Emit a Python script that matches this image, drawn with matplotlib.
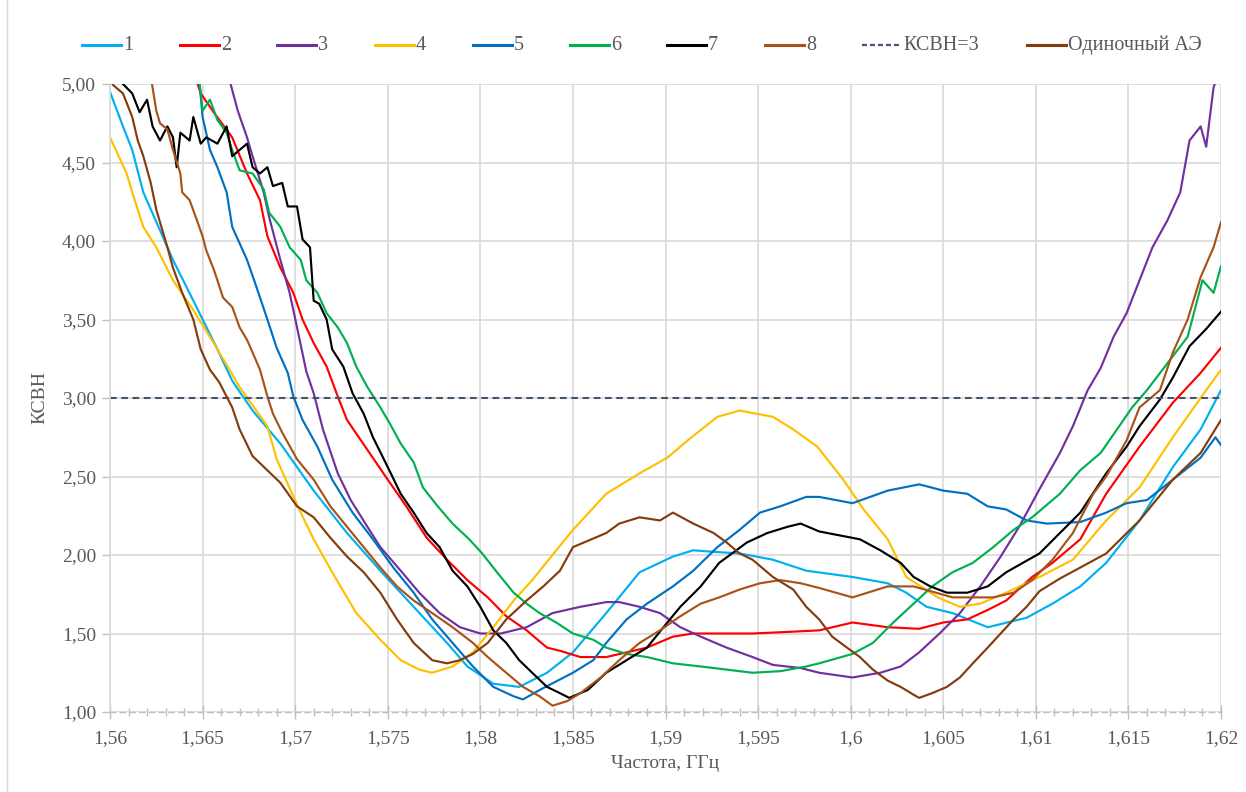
import matplotlib
matplotlib.use("Agg")
import matplotlib.pyplot as plt
from matplotlib.lines import Line2D
from matplotlib.ticker import MultipleLocator

plt.rcParams['font.family'] = ['Liberation Serif', 'DejaVu Serif']

# ---------------- data (frequency, GHz / VSWR) ----------------
f1 = [1.5600, 1.5607, 1.5612, 1.5618, 1.5634, 1.5645, 1.5658, 1.5666, 1.5677, 1.5692,
      1.5710, 1.5728, 1.5746, 1.5764, 1.5782, 1.5793, 1.5807, 1.5821, 1.5836, 1.5850,
      1.5868, 1.5886, 1.5904, 1.5915, 1.5926, 1.5940, 1.5958, 1.5976, 1.6001, 1.6020,
      1.6030, 1.6041, 1.6055, 1.6074, 1.6095, 1.6109, 1.6124, 1.6138, 1.6156, 1.6174,
      1.6189, 1.6200]
v1 = [4.95, 4.73, 4.58, 4.31, 3.88, 3.62, 3.31, 3.11, 2.92, 2.71,
      2.41, 2.14, 1.90, 1.67, 1.44, 1.29, 1.18, 1.16, 1.25, 1.38,
      1.63, 1.89, 1.99, 2.03, 2.02, 2.01, 1.97, 1.90, 1.86, 1.82,
      1.76, 1.67, 1.63, 1.54, 1.60, 1.69, 1.80, 1.95, 2.22, 2.56,
      2.80, 3.05]

f2 = [1.5646, 1.5649, 1.5656, 1.5666, 1.5674, 1.5681, 1.5685, 1.5692, 1.5699, 1.5704,
      1.5710, 1.5717, 1.5723, 1.5728, 1.5739, 1.5750, 1.5760, 1.5771, 1.5782, 1.5793,
      1.5804, 1.5814, 1.5825, 1.5836, 1.5843, 1.5854, 1.5868, 1.5879, 1.5890, 1.5904,
      1.5915, 1.5933, 1.5947, 1.5966, 1.5983, 1.6001, 1.6020, 1.6037, 1.6050, 1.6063,
      1.6074, 1.6084, 1.6098, 1.6109, 1.6124, 1.6138, 1.6156, 1.6174, 1.6189, 1.6200]
v2 = [5.05, 4.94, 4.82, 4.66, 4.43, 4.26, 4.03, 3.83, 3.67, 3.50,
      3.35, 3.20, 3.01, 2.86, 2.67, 2.48, 2.31, 2.11, 1.97, 1.84,
      1.73, 1.61, 1.52, 1.41, 1.39, 1.35, 1.35, 1.38, 1.41, 1.48,
      1.50, 1.50, 1.50, 1.51, 1.52, 1.57, 1.54, 1.53, 1.57, 1.59,
      1.65, 1.71, 1.86, 1.95, 2.10, 2.39, 2.69, 2.97, 3.16, 3.32]

f3 = [1.5664, 1.5669, 1.5674, 1.5677, 1.5683, 1.5686, 1.5692, 1.5697, 1.5701, 1.5706,
      1.5710, 1.5715, 1.5723, 1.5730, 1.5739, 1.5746, 1.5757, 1.5767, 1.5778, 1.5789,
      1.5800, 1.5811, 1.5825, 1.5839, 1.5854, 1.5868, 1.5875, 1.5886, 1.5897, 1.5908,
      1.5919, 1.5933, 1.5947, 1.5958, 1.5973, 1.5983, 1.6001, 1.6016, 1.6027, 1.6037,
      1.6048, 1.6059, 1.6070, 1.6081, 1.6091, 1.6102, 1.6113, 1.6120, 1.6128, 1.6135,
      1.6142, 1.6149, 1.6156, 1.6163, 1.6171, 1.6178, 1.6183, 1.6189, 1.6192, 1.6196,
      1.6200]
v3 = [5.05, 4.83, 4.66, 4.54, 4.31, 4.15, 3.88, 3.67, 3.45, 3.17,
      3.03, 2.80, 2.52, 2.35, 2.18, 2.05, 1.90, 1.76, 1.63, 1.54,
      1.50, 1.50, 1.54, 1.63, 1.67, 1.70, 1.70, 1.67, 1.63, 1.54,
      1.48, 1.41, 1.35, 1.30, 1.28, 1.25, 1.22, 1.25, 1.29, 1.38,
      1.50, 1.63, 1.80, 1.99, 2.18, 2.42, 2.65, 2.82, 3.05, 3.19,
      3.39, 3.54, 3.75, 3.96, 4.13, 4.31, 4.64, 4.73, 4.60, 4.98,
      5.10]

f4 = [1.5600, 1.5609, 1.5612, 1.5618, 1.5625, 1.5634, 1.5645, 1.5656, 1.5670, 1.5685,
      1.5690, 1.5703, 1.5710, 1.5720, 1.5733, 1.5746, 1.5757, 1.5767, 1.5774, 1.5785,
      1.5796, 1.5807, 1.5818, 1.5828, 1.5841, 1.5850, 1.5868, 1.5886, 1.5901, 1.5912,
      1.5928, 1.5940, 1.5949, 1.5958, 1.5969, 1.5982, 1.5996, 1.6007, 1.6020, 1.6030,
      1.6047, 1.6059, 1.6070, 1.6084, 1.6102, 1.6120, 1.6138, 1.6156, 1.6174, 1.6192,
      1.6200]
v4 = [4.66, 4.43, 4.31, 4.09, 3.96, 3.75, 3.56, 3.35, 3.07, 2.82,
      2.61, 2.27, 2.10, 1.89, 1.63, 1.46, 1.33, 1.27, 1.25, 1.29,
      1.38, 1.54, 1.71, 1.84, 2.03, 2.16, 2.39, 2.52, 2.62, 2.73,
      2.88, 2.92, 2.90, 2.88, 2.80, 2.69, 2.48, 2.29, 2.10, 1.86,
      1.73, 1.67, 1.69, 1.76, 1.86, 1.97, 2.22, 2.43, 2.75, 3.05,
      3.18]

f5 = [1.5648, 1.5650, 1.5654, 1.5658, 1.5663, 1.5666, 1.5674, 1.5679, 1.5685, 1.5690,
      1.5696, 1.5699, 1.5704, 1.5712, 1.5720, 1.5731, 1.5742, 1.5753, 1.5764, 1.5774,
      1.5785, 1.5796, 1.5807, 1.5818, 1.5823, 1.5832, 1.5850, 1.5861, 1.5868, 1.5879,
      1.5890, 1.5904, 1.5915, 1.5928, 1.5940, 1.5951, 1.5962, 1.5976, 1.5983, 1.6001,
      1.6020, 1.6037, 1.6050, 1.6063, 1.6074, 1.6084, 1.6095, 1.6106, 1.6124, 1.6138,
      1.6149, 1.6160, 1.6174, 1.6189, 1.6197, 1.6200]
v5 = [5.05, 4.79, 4.58, 4.47, 4.31, 4.09, 3.88, 3.71, 3.50, 3.32,
      3.16, 3.01, 2.86, 2.69, 2.48, 2.27, 2.10, 1.92, 1.76, 1.59,
      1.44, 1.29, 1.16, 1.10, 1.08, 1.14, 1.25, 1.33, 1.44, 1.59,
      1.69, 1.80, 1.90, 2.05, 2.16, 2.27, 2.31, 2.37, 2.37, 2.33,
      2.41, 2.45, 2.41, 2.39, 2.31, 2.29, 2.22, 2.20, 2.21, 2.27,
      2.33, 2.35, 2.48, 2.62, 2.75, 2.70]

f6 = [1.5648, 1.5650, 1.5654, 1.5658, 1.5663, 1.5666, 1.5670, 1.5677, 1.5683, 1.5686,
      1.5692, 1.5697, 1.5703, 1.5706, 1.5712, 1.5717, 1.5723, 1.5728, 1.5733, 1.5739,
      1.5746, 1.5751, 1.5757, 1.5764, 1.5769, 1.5777, 1.5785, 1.5794, 1.5801, 1.5809,
      1.5818, 1.5825, 1.5832, 1.5841, 1.5850, 1.5861, 1.5868, 1.5879, 1.5890, 1.5904,
      1.5919, 1.5933, 1.5947, 1.5962, 1.5976, 1.5983, 1.6001, 1.6012, 1.6023, 1.6034,
      1.6044, 1.6055, 1.6066, 1.6077, 1.6088, 1.6098, 1.6113, 1.6124, 1.6135, 1.6145,
      1.6152, 1.6160, 1.6171, 1.6182, 1.6190, 1.6196, 1.6200]
v6 = [5.05, 4.83, 4.90, 4.77, 4.69, 4.58, 4.45, 4.43, 4.33, 4.18,
      4.09, 3.96, 3.88, 3.75, 3.67, 3.54, 3.45, 3.35, 3.20, 3.07,
      2.94, 2.84, 2.71, 2.59, 2.43, 2.31, 2.20, 2.10, 2.01, 1.89,
      1.76, 1.69, 1.63, 1.57, 1.50, 1.46, 1.41, 1.37, 1.35, 1.31,
      1.29, 1.27, 1.25, 1.26, 1.29, 1.31, 1.37, 1.44, 1.57, 1.69,
      1.80, 1.89, 1.95, 2.05, 2.16, 2.24, 2.39, 2.54, 2.65, 2.82,
      2.94, 3.05, 3.22, 3.39, 3.75, 3.67, 3.84]

f7 = [1.5600, 1.5607, 1.5612, 1.5616, 1.5620, 1.5623, 1.5627, 1.5631, 1.5634, 1.5636,
      1.5638, 1.5643, 1.5645, 1.5649, 1.5652, 1.5658, 1.5663, 1.5666, 1.5674, 1.5677,
      1.5681, 1.5685, 1.5688, 1.5693, 1.5696, 1.5701, 1.5704, 1.5708, 1.5710, 1.5713,
      1.5717, 1.5720, 1.5726, 1.5731, 1.5737, 1.5742, 1.5750, 1.5757, 1.5764, 1.5771,
      1.5778, 1.5785, 1.5793, 1.5800, 1.5807, 1.5814, 1.5821, 1.5828, 1.5836, 1.5843,
      1.5848, 1.5858, 1.5868, 1.5879, 1.5890, 1.5901, 1.5908, 1.5919, 1.5929, 1.5944,
      1.5955, 1.5966, 1.5973, 1.5983, 1.6005, 1.6016, 1.6027, 1.6034, 1.6043, 1.6052,
      1.6063, 1.6074, 1.6084, 1.6102, 1.6113, 1.6124, 1.6138, 1.6149, 1.6156, 1.6167,
      1.6174, 1.6183, 1.6192, 1.6200]
v7 = [5.10, 5.00, 4.94, 4.82, 4.90, 4.73, 4.64, 4.73, 4.66, 4.47,
      4.69, 4.64, 4.79, 4.62, 4.66, 4.62, 4.73, 4.54, 4.62, 4.47,
      4.43, 4.47, 4.35, 4.37, 4.22, 4.22, 4.01, 3.96, 3.62, 3.60,
      3.50, 3.31, 3.20, 3.03, 2.90, 2.75, 2.56, 2.39, 2.27, 2.14,
      2.05, 1.90, 1.80, 1.67, 1.52, 1.44, 1.33, 1.25, 1.16, 1.12,
      1.09, 1.14, 1.25, 1.33, 1.41, 1.57, 1.67, 1.80, 1.95, 2.08,
      2.14, 2.18, 2.20, 2.15, 2.10, 2.03, 1.95, 1.86, 1.80, 1.76,
      1.76, 1.80, 1.89, 2.01, 2.14, 2.27, 2.52, 2.69, 2.82, 2.99,
      3.13, 3.33, 3.44, 3.55]

f8 = [1.5622, 1.5625, 1.5627, 1.5631, 1.5634, 1.5638, 1.5639, 1.5643, 1.5647, 1.5650,
      1.5652, 1.5656, 1.5658, 1.5661, 1.5666, 1.5670, 1.5674, 1.5677, 1.5681, 1.5685,
      1.5688, 1.5693, 1.5701, 1.5710, 1.5719, 1.5728, 1.5737, 1.5746, 1.5755, 1.5764,
      1.5774, 1.5785, 1.5796, 1.5804, 1.5814, 1.5823, 1.5832, 1.5839, 1.5847, 1.5854,
      1.5865, 1.5875, 1.5886, 1.5897, 1.5908, 1.5919, 1.5929, 1.5940, 1.5951, 1.5962,
      1.5973, 1.5983, 1.6001, 1.6020, 1.6034, 1.6055, 1.6077, 1.6088, 1.6098, 1.6109,
      1.6120, 1.6131, 1.6138, 1.6149, 1.6156, 1.6167, 1.6174, 1.6182, 1.6189, 1.6196,
      1.6200]
v8 = [5.05, 4.83, 4.75, 4.71, 4.58, 4.43, 4.31, 4.26, 4.13, 4.03,
      3.94, 3.82, 3.75, 3.64, 3.58, 3.45, 3.37, 3.29, 3.18, 3.01,
      2.90, 2.78, 2.61, 2.48, 2.31, 2.18, 2.05, 1.92, 1.80, 1.71,
      1.63, 1.54, 1.44, 1.35, 1.25, 1.16, 1.10, 1.04, 1.07, 1.12,
      1.22, 1.33, 1.44, 1.52, 1.61, 1.69, 1.73, 1.78, 1.82, 1.84,
      1.82, 1.79, 1.73, 1.80, 1.80, 1.73, 1.73, 1.76, 1.84, 1.97,
      2.14, 2.39, 2.50, 2.73, 2.94, 3.05, 3.29, 3.50, 3.77, 3.96,
      4.12]

f_single = [1.5600, 1.5602, 1.5607, 1.5612, 1.5615, 1.5618, 1.5622, 1.5625, 1.5631, 1.5634,
            1.5639, 1.5645, 1.5649, 1.5654, 1.5659, 1.5666, 1.5670, 1.5677, 1.5692, 1.5701,
            1.5710, 1.5719, 1.5728, 1.5737, 1.5746, 1.5755, 1.5764, 1.5774, 1.5782, 1.5789,
            1.5796, 1.5804, 1.5814, 1.5825, 1.5834, 1.5843, 1.5850, 1.5868, 1.5875, 1.5886,
            1.5897, 1.5904, 1.5915, 1.5926, 1.5933, 1.5940, 1.5947, 1.5958, 1.5969, 1.5976,
            1.5983, 1.5990, 1.5998, 1.6005, 1.6012, 1.6020, 1.6027, 1.6034, 1.6037, 1.6044,
            1.6052, 1.6059, 1.6066, 1.6074, 1.6081, 1.6088, 1.6095, 1.6102, 1.6113, 1.6124,
            1.6138, 1.6156, 1.6174, 1.6189, 1.6200]
v_single = [5.02, 4.99, 4.94, 4.79, 4.64, 4.54, 4.37, 4.20, 3.96, 3.83,
            3.67, 3.50, 3.31, 3.18, 3.10, 2.94, 2.80, 2.63, 2.46, 2.31,
            2.24, 2.11, 1.99, 1.89, 1.76, 1.59, 1.44, 1.33, 1.31, 1.33,
            1.37, 1.44, 1.59, 1.71, 1.80, 1.90, 2.05, 2.14, 2.20, 2.24,
            2.22, 2.27, 2.20, 2.14, 2.08, 2.01, 1.97, 1.86, 1.78, 1.67,
            1.59, 1.48, 1.41, 1.35, 1.27, 1.20, 1.16, 1.11, 1.09, 1.12,
            1.16, 1.22, 1.31, 1.41, 1.50, 1.59, 1.67, 1.77, 1.85, 1.92,
            2.01, 2.22, 2.48, 2.65, 2.86]

vswr_limit = 3.0
x_range = [1.56, 1.62]
y_range = [1.0, 5.0]
x_ticks = [1.56, 1.565, 1.57, 1.575, 1.58, 1.585, 1.59, 1.595, 1.6, 1.605, 1.61, 1.615, 1.62]
x_ticklabels = ['1,56', '1,565', '1,57', '1,575', '1,58', '1,585', '1,59', '1,595',
                '1,6', '1,605', '1,61', '1,615', '1,62']
y_ticks = [1.0, 1.5, 2.0, 2.5, 3.0, 3.5, 4.0, 4.5, 5.0]
y_ticklabels = ['1,00', '1,50', '2,00', '2,50', '3,00', '3,50', '4,00', '4,50', '5,00']

series_labels = ['1', '2', '3', '4', '5', '6', '7', '8']
limit_label = 'КСВН=3'
single_label = 'Одиночный АЭ'
x_label = 'Частота, ГГц'
y_label = 'КСВН'

# ---------------- styling ----------------
colors = ['#00B0F0', '#FF0000', '#7030A0', '#FFC000', '#0070C0', '#00B050', '#000000', '#A9521A']
single_color = '#843C0C'
limit_color = '#44546A'
text_color = '#595959'
grid_color = '#D9D9D9'

W, H = 1246, 792
fig = plt.figure(figsize=(W / 100, H / 100), dpi=100)
ax = fig.add_axes([110 / W, 1 - 712 / H, (1221 - 110) / W, (712 - 84) / H])

series = [(f1, v1), (f2, v2), (f3, v3), (f4, v4), (f5, v5), (f6, v6), (f7, v7), (f8, v8)]
styles = []
for (fx, vy), c in zip(series, colors):
    ax.plot(fx, vy, color=c, lw=1.55, solid_joinstyle='round')
    styles.append(dict(color=c, lw=2.2, ls='-'))

ax.plot(x_range, [vswr_limit, vswr_limit], color=limit_color, lw=1.5, ls=(0, (3.2, 2.2)))
styles.append(dict(color=limit_color, lw=1.6, ls=(0, (2.2, 1.4))))
ax.plot(f_single, v_single, color=single_color, lw=1.55, solid_joinstyle='round')
styles.append(dict(color=single_color, lw=2.2, ls='-'))

ax.set_xlim(*x_range)
ax.set_ylim(*y_range)
ax.set_xticks(x_ticks)
ax.set_xticklabels(x_ticklabels)
ax.set_yticks(y_ticks)
ax.set_yticklabels(y_ticklabels)
ax.xaxis.set_minor_locator(MultipleLocator(0.001))

ax.grid(True, which='major', color=grid_color, lw=1.2)
ax.set_axisbelow(True)
for s in ['top', 'right']:
    ax.spines[s].set_visible(False)
ax.spines['left'].set_color(grid_color)
ax.spines['left'].set_linewidth(1.2)
ax.spines['bottom'].set_color('#BFBFBF')
ax.spines['bottom'].set_linewidth(1.0)
ax.spines['bottom'].set_linestyle((0, (4, 3)))

ax.tick_params(axis='x', which='major', direction='inout', length=10, width=1.0,
               color='#BFBFBF', labelsize=14, labelcolor=text_color, pad=8)
ax.tick_params(axis='x', which='minor', direction='inout', length=6, width=1.0,
               color='#BFBFBF')
ax.tick_params(axis='y', which='major', direction='out', length=6, width=1.0,
               color='#BFBFBF', labelsize=14, labelcolor=text_color, pad=4)

ax.set_xlabel(x_label, fontsize=14, color=text_color, labelpad=6)
ax.set_ylabel(y_label, fontsize=14, color=text_color, labelpad=10)

# ---------------- manual legend (one row above the plot) ----------------
legend_labels = series_labels + [limit_label, single_label]
legend_x0 = [82, 180, 277, 375, 473, 570, 667, 765, 862, 1027]  # sample start, px
sample_len = 39
ly = 1 - 45 / H
for x0, lab, st in zip(legend_x0, legend_labels, styles):
    fig.add_artist(Line2D([x0 / W, (x0 + sample_len) / W], [ly, ly], transform=fig.transFigure,
                          color=st['color'], lw=st['lw'], ls=st['ls']))
    fig.text((x0 + sample_len + 2) / W, ly, lab, fontsize=14.5, color=text_color,
             ha='left', va='center')

# chart area border (left edge)
fig.add_artist(Line2D([7 / W, 7 / W], [0, 1], transform=fig.transFigure,
                      color='#D9D9D9', lw=1.0))

fig.savefig('out.png', dpi=100)
